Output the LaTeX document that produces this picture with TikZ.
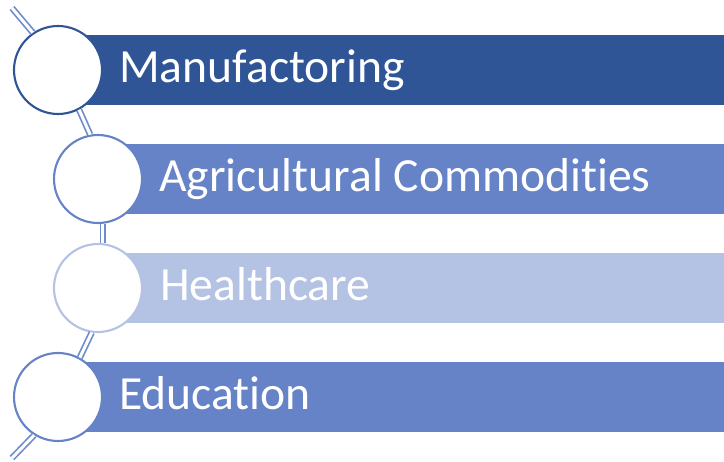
\documentclass[tikz,border=0pt]{standalone}
\usepackage{fontspec}
\setmainfont{Carlito}[Ligatures={NoCommon},RawFeature={-liga;-clig}]
\definecolor{cdark}{RGB}{47,85,151}
\definecolor{cmid}{RGB}{101,131,198}
\definecolor{clight}{RGB}{180,194,227}
\definecolor{clink}{RGB}{110,140,204}
\begin{document}
\begin{tikzpicture}[x=1pt,y=-1pt,
  ring/.style={circle, fill=white, line width=2.1pt, minimum size=88pt, inner sep=0pt},
  lbl/.style={anchor=base west, inner sep=0pt, text=white, font=\fontsize{47.6}{50}\selectfont},
  link/.style={draw=clink, line width=1.7pt, double=white, double distance=3pt}]
\useasboundingbox (0,0) rectangle (724,462);
% bars
\fill[cdark] (58,35) rectangle (724,105);
\fill[cmid] (98,144) rectangle (724,214);
\fill[clight] (98,253) rectangle (724,323);
\fill[cmid] (58,362) rectangle (724,432);
% circles
\node[ring, draw=cdark] (c1) at (58,70) {};
\node[ring, draw=cmid] (c2) at (98,179) {};
\node[ring, draw=clight] (c3) at (98,288) {};
\node[ring, draw=cmid] (c4) at (58,397) {};
% connectors
\coordinate (top) at (12,8);
\coordinate (bot) at (12,458);
\draw[link] (top) -- (c1.124);
\draw[link] (c1.-62) -- (c2.100);
\draw[link] (c2.-84) -- (c3.84);
\draw[link] (c3.-98) -- (c4.61);
\draw[link] (c4.-122) -- (bot);
% labels
\node[lbl] (t1) at (119,83) {Manufactoring};
\node[lbl] (t2) at (159,192) {Agricultural Commodities};
\node[lbl] (t3) at (160,301) {Healthcare};
\node[lbl] (t4) at (119,410) {Education};
\end{tikzpicture}
\end{document}
